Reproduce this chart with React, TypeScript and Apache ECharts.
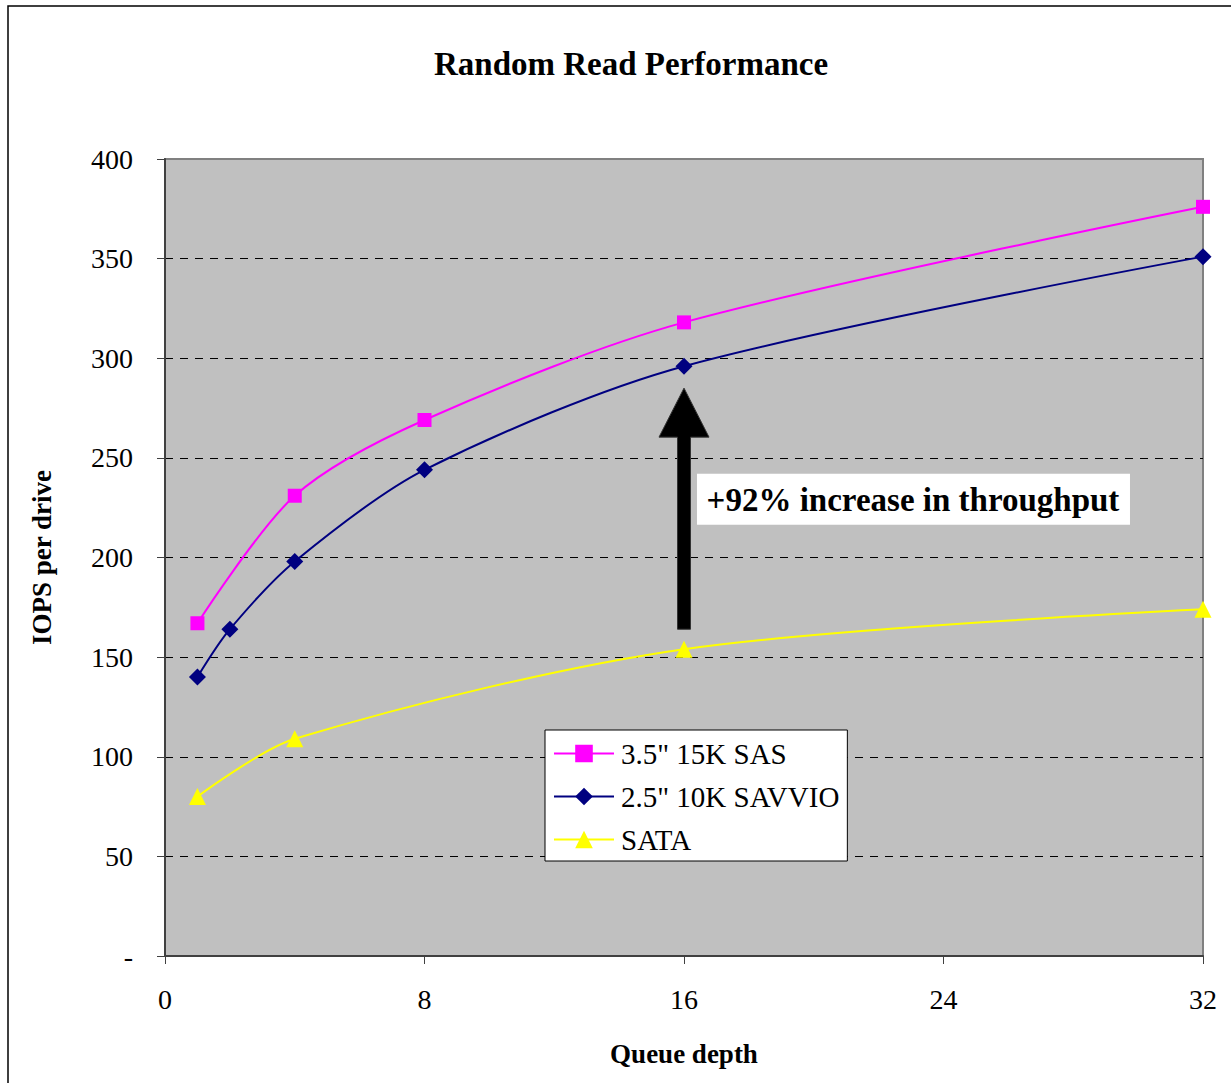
import React, { useEffect, useRef } from "react";
import * as echarts from "echarts";

const titleText = "Random Read Performance";
const xAxisName = "Queue depth";
const yAxisName = "IOPS per drive";
const annotationText = "+92% increase in throughput";

const sasName = '3.5" 15K SAS';
const sasX = [1, 4, 8, 16, 32];
const sasY = [167, 231, 269, 318, 376];

const savvioName = '2.5" 10K SAVVIO';
const savvioX = [1, 2, 4, 8, 16, 32];
const savvioY = [140, 164, 198, 244, 296, 351];

const sataName = "SATA";
const sataX = [1, 4, 16, 32];
const sataY = [80, 109, 154, 174];

// arrow annotation (data coords): from SATA level up to SAVVIO level at queue depth 16
const arrowX = 16;
const arrowFrom = 164;
const arrowTo = 285;
const labelAt = [16.4, 229];

const FONT = "Liberation Serif";

const zip = (xs: number[], ys: number[]) => xs.map((x, i) => [x, ys[i]]);

export default function App() {
  const ref = useRef<HTMLDivElement>(null);
  useEffect(() => {
    document.body.style.margin = "0";
    const chart = echarts.init(ref.current!, undefined, { renderer: "svg" });
    const option: any = {
      animation: false,
      backgroundColor: "#ffffff",
      title: {
        text: titleText,
        left: 626,
        top: 42,
        textAlign: "center",
        textStyle: { fontFamily: FONT, fontWeight: "bold", fontSize: 33, color: "#000" },
      },
      grid: {
        left: 165,
        top: 159,
        right: 28,
        bottom: 127,
        show: true,
        backgroundColor: "#c0c0c0",
        borderColor: "#808080",
        borderWidth: 2,
      },
      legend: {
        orient: "vertical",
        left: 545,
        top: 730,
        backgroundColor: "#ffffff",
        borderColor: "#000000",
        borderWidth: 1,
        padding: [9, 8, 7, 8],
        itemGap: 14,
        itemWidth: 60,
        itemHeight: 22,
        textStyle: { fontFamily: FONT, fontSize: 29, color: "#000", padding: [0, 0, 0, 2] },
        data: [sasName, savvioName, sataName],
      },
      xAxis: {
        type: "value",
        min: 0,
        max: 32,
        interval: 8,
        name: xAxisName,
        nameLocation: "middle",
        nameGap: 84,
        nameTextStyle: { fontFamily: FONT, fontWeight: "bold", fontSize: 27, color: "#000" },
        axisLine: { show: true, lineStyle: { color: "#404040", width: 2 } },
        axisTick: { show: true, inside: false, length: 8, lineStyle: { color: "#404040" } },
        axisLabel: { fontFamily: FONT, fontSize: 28, color: "#000", margin: 29 },
        splitLine: { show: false },
      },
      yAxis: {
        type: "value",
        min: 0,
        max: 400,
        interval: 50,
        name: yAxisName,
        nameLocation: "middle",
        nameGap: 110,
        nameTextStyle: { fontFamily: FONT, fontWeight: "bold", fontSize: 27, color: "#000" },
        axisLine: { show: true, lineStyle: { color: "#404040", width: 2 } },
        axisTick: { show: true, inside: false, length: 8, lineStyle: { color: "#404040" } },
        axisLabel: {
          fontFamily: FONT,
          fontSize: 28,
          color: "#000",
          margin: 32,
          formatter: (v: number) => (v === 0 ? "-" : String(v)),
        },
        splitLine: {
          show: true,
          showMinLine: false,
          showMaxLine: false,
          lineStyle: { color: "#000", type: [8, 7], width: 1 },
        },
      },
      series: [
        {
          name: sasName,
          type: "line",
          data: zip(sasX, sasY),
          smooth: 0.3,
          symbol: "rect",
          symbolSize: 14,
          color: "#ff00ff",
          lineStyle: { color: "#ff00ff", width: 2 },
          itemStyle: { color: "#ff00ff" },
          z: 4,
        },
        {
          name: savvioName,
          type: "line",
          data: zip(savvioX, savvioY),
          smooth: 0.3,
          symbol: "diamond",
          symbolSize: 17,
          color: "#000080",
          lineStyle: { color: "#000080", width: 2 },
          itemStyle: { color: "#000080" },
          z: 4,
        },
        {
          name: sataName,
          type: "line",
          data: zip(sataX, sataY),
          smooth: 0.3,
          symbol: "triangle",
          symbolSize: 17,
          color: "#ffff00",
          lineStyle: { color: "#ffff00", width: 2 },
          itemStyle: { color: "#ffff00" },
          z: 4,
        },
      ],
    };
    chart.setOption(option);

    const pBottom = chart.convertToPixel({ gridIndex: 0 }, [arrowX, arrowFrom]);
    const pTip = chart.convertToPixel({ gridIndex: 0 }, [arrowX, arrowTo]);
    const pLabel = chart.convertToPixel({ gridIndex: 0 }, labelAt);
    const cx = pTip[0];
    const headH = 49;
    const headW = 25;
    const shaftW = 6.5;
    chart.setOption({
      graphic: [
        {
          type: "rect",
          shape: { x: 8, y: 6, width: 1300, height: 1200 },
          style: { fill: "none", stroke: "#000", lineWidth: 1.5 },
          silent: true,
          z: -10,
        },
        {
          type: "polygon",
          shape: {
            points: [
              [cx - shaftW, pBottom[1]],
              [cx - shaftW, pTip[1] + headH],
              [cx - headW, pTip[1] + headH],
              [cx, pTip[1]],
              [cx + headW, pTip[1] + headH],
              [cx + shaftW, pTip[1] + headH],
              [cx + shaftW, pBottom[1]],
            ],
          },
          style: { fill: "#000", stroke: "#333", lineWidth: 1 },
          z: 100,
        },
        {
          type: "rect",
          shape: { x: pLabel[0], y: pLabel[1] - 26, width: 433, height: 51 },
          style: { fill: "#fff" },
          z: 100,
        },
        {
          type: "text",
          x: pLabel[0] + 216,
          y: pLabel[1],
          style: {
            text: annotationText,
            font: `bold 33px ${FONT}`,
            fill: "#000",
            align: "center",
            verticalAlign: "middle",
          },
          z: 101,
        },
      ],
    });
    return () => chart.dispose();
  }, []);
  return <div ref={ref} style={{ width: 1231, height: 1083 }} />;
}
